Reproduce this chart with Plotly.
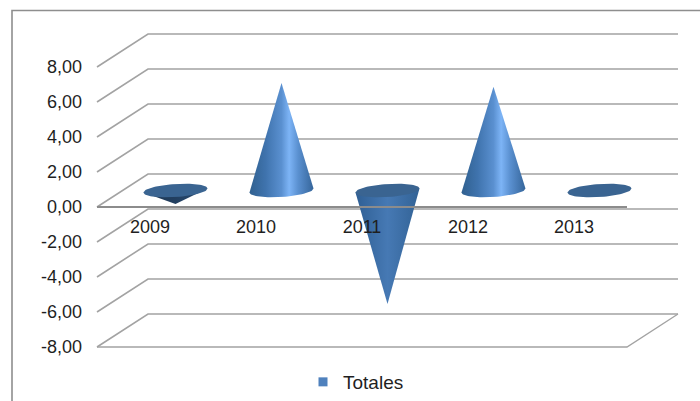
import numpy as np
import plotly.graph_objects as go

anos = ["2009", "2010", "2011", "2012", "2013"]
totales = [-0.77, 6.14, -6.49, 5.93, 0.02]
y_ticks = [-8, -6, -4, -2, 0, 2, 4, 6, 8]
y_labels = ["-8,00", "-6,00", "-4,00", "-2,00", "0,00", "2,00", "4,00", "6,00", "8,00"]

# size of the picture and of the front plane, in pixels
W, H = 700, 401
LEFT, RIGHT = 97, 627
Y_TOP, Y_BOTTOM = 67, 347
PX_X = (RIGHT - LEFT) / len(anos)
PX_Y = (Y_BOTTOM - Y_TOP) / (y_ticks[-1] - y_ticks[0])

# oblique depth of the 3D box, in axis units
DX = 51 / PX_X
DY = 33 / PX_Y
X0, X1 = -0.5, len(anos) - 0.5

GRID = "#a3a3a3"
CAP = "#3a6491"
UP = [[0, "#30608f"], [0.25, "#3f73ad"], [0.5, "#5a90d0"], [0.62, "#7db4f6"],
      [0.76, "#5a90d0"], [1, "#35659a"]]
DOWN = [[0, "#2f5f94"], [0.5, "#4679b4"], [1, "#326295"]]
DARK = [[0, "#1d3653"], [0.5, "#223f60"], [1, "#2b4d75"]]

RX, RY, TILT = 32 / PX_X, 6.5 / PX_Y, 2 / PX_Y


def ellipse(i, t):
    cx = i + DX / 2
    cy = DY / 2
    return cx + RX * np.cos(t), cy + RY * np.sin(t) + TILT * np.cos(t)


fig = go.Figure()

# walls and floor
for v in y_ticks:
    fig.add_trace(go.Scatter(
        x=[X0, X0 + DX, X1 + DX], y=[v, v + DY, v + DY], mode="lines",
        line=dict(color=GRID, width=1.6), showlegend=False, hoverinfo="skip"))
fig.add_trace(go.Scatter(
    x=[X0, X1, X1 + DX], y=[-8, -8, -8 + DY], mode="lines",
    line=dict(color=GRID, width=1.4), showlegend=False, hoverinfo="skip"))

# cones
for i, v in enumerate(totales):
    apex_x = i + DX / 2
    apex_y = DY / 2 + v
    if v > 0.5:
        t = np.linspace(np.pi, 2 * np.pi, 40)
        ex, ey = ellipse(i, t)
        fig.add_trace(go.Scatter(
            x=list(ex) + [apex_x], y=list(ey) + [apex_y], fill="toself", mode="lines",
            line=dict(width=0), fillgradient=dict(type="horizontal", colorscale=UP),
            showlegend=False, hoverinfo="skip"))
    else:
        if v < -0.05:
            t = np.array([np.pi, 0])
            ex, ey = ellipse(i, t)
            fig.add_trace(go.Scatter(
                x=[ex[0], apex_x, ex[1]], y=[ey[0], apex_y, ey[1]], fill="toself", mode="lines",
                line=dict(width=0),
                fillgradient=dict(type="horizontal", colorscale=DOWN if v < -1 else DARK),
                showlegend=False, hoverinfo="skip"))
        t = np.linspace(0, 2 * np.pi, 80)
        ex, ey = ellipse(i, t)
        fig.add_trace(go.Scatter(
            x=ex, y=ey, fill="toself", fillcolor=CAP, mode="lines",
            line=dict(width=0), showlegend=False, hoverinfo="skip"))

# category axis line, on top of the cones
fig.add_trace(go.Scatter(
    x=[X0, X1], y=[0, 0], mode="lines",
    line=dict(color="#8c8c8c", width=2), showlegend=False, hoverinfo="skip"))

# legend entry
fig.add_trace(go.Scatter(
    x=[None], y=[None], mode="markers", name="Totales",
    marker=dict(symbol="square", size=9, color="#4f81bd")))

# axes cover the whole page, so nothing of the depth gets clipped
x_lo = X0 - LEFT / PX_X
x_hi = X0 + (W - LEFT) / PX_X
y_hi = (207 - 0) / PX_Y
y_lo = (207 - H) / PX_Y

fig.update_layout(
    width=W, height=H,
    margin=dict(l=0, r=0, t=0, b=0),
    paper_bgcolor="white", plot_bgcolor="rgba(0,0,0,0)",
    font=dict(family="Liberation Sans", size=18, color="#1f1f1f"),
    legend=dict(x=303 / W, y=1 - 382 / H, xanchor="left", yanchor="middle",
                font=dict(size=19), itemwidth=30, bgcolor="rgba(0,0,0,0)"),
    xaxis=dict(
        domain=[0, 1], range=[x_lo, x_hi],
        tickvals=list(range(len(anos))), ticktext=anos,
        showgrid=False, zeroline=False, showline=False,
        anchor="free", position=1 - 207 / H, ticks="", ticklabelstandoff=7),
    yaxis=dict(
        domain=[0, 1], range=[y_lo, y_hi],
        tickvals=y_ticks, ticktext=y_labels,
        showgrid=False, zeroline=False, showline=False, ticks="", ticklabelstandoff=15,
        anchor="free", position=LEFT / W),
    shapes=[dict(type="rect", xref="paper", yref="paper",
                 x0=12 / W, x1=1.02, y0=-0.02, y1=1 - 10.5 / H,
                 line=dict(color="#8e8e8e", width=1.6))],
)

fig.write_html("out.html", config=dict(displayModeBar=False),
               post_script="document.body.style.margin='0';")
